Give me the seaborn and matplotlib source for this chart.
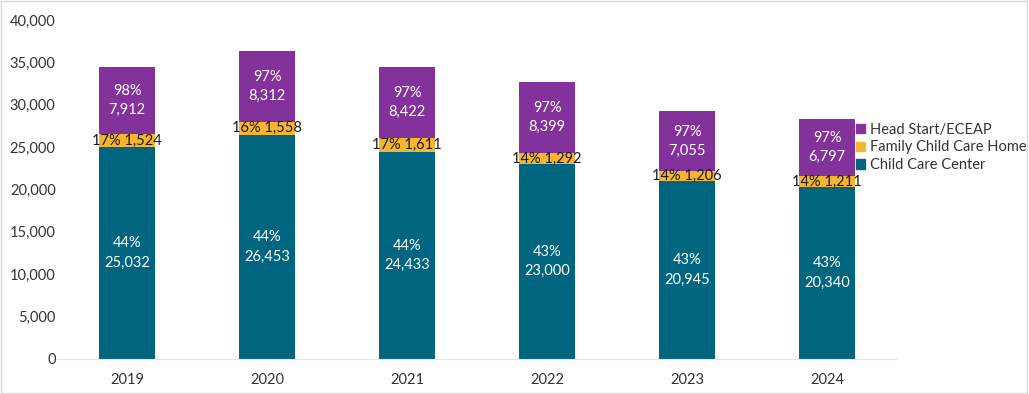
import numpy as np
import pandas as pd
import seaborn as sns
import matplotlib.pyplot as plt
from matplotlib.patches import Patch, Rectangle

# Data
years = ["2019", "2020", "2021", "2022", "2023", "2024"]
center = [25032, 26453, 24433, 23000, 20945, 20340]
family = [1524, 1558, 1611, 1292, 1206, 1211]
head_start = [7912, 8312, 8422, 8399, 7055, 6797]
center_pct = [44, 44, 44, 43, 43, 43]
family_pct = [17, 16, 17, 14, 14, 14]
head_start_pct = [98, 97, 97, 97, 97, 97]

C_CENTER = "#00657E"
C_FAMILY = "#F6B531"
C_HEAD = "#84329B"

df = pd.DataFrame({"year": years, "center": center, "family": family, "head": head_start})
df["lvl2"] = df["center"] + df["family"]
df["lvl3"] = df["lvl2"] + df["head"]

plt.rcParams["font.family"] = ["Lato", "DejaVu Sans"]
fig = plt.figure(figsize=(10.29, 3.94), dpi=100)
ax = fig.add_axes([57 / 1029, 1 - 359 / 394, 840 / 1029, 339 / 394])

# layered bars -> stacked look
sns.barplot(data=df, x="year", y="lvl3", color=C_HEAD, width=0.4, saturation=1, ax=ax)
sns.barplot(data=df, x="year", y="lvl2", color=C_FAMILY, width=0.4, saturation=1, ax=ax)
sns.barplot(data=df, x="year", y="center", color=C_CENTER, width=0.4, saturation=1, ax=ax)

FS = 10.5
for i in range(len(years)):
    ax.text(i, center[i] / 2, f"{center_pct[i]}%\n{center[i]:,}", ha="center", va="center",
            color="white", fontsize=FS, linespacing=1.5)
    ax.text(i, center[i] + family[i] / 2, f"{family_pct[i]}% {family[i]:,}", ha="center",
            va="center", color="#1a1a1a", fontsize=FS)
    ax.text(i, df["lvl2"][i] + head_start[i] / 2, f"{head_start_pct[i]}%\n{head_start[i]:,}",
            ha="center", va="center", color="white", fontsize=FS, linespacing=1.5)

ax.set_ylim(0, 40000)
ax.set_xlim(-0.5, 5.5)
ax.set_yticks(range(0, 40001, 5000))
ax.yaxis.set_major_formatter(plt.FuncFormatter(lambda v, p: f"{int(v):,}"))
ax.set_xlabel("")
ax.set_ylabel("")
ax.tick_params(length=0, labelsize=FS, labelcolor="#333333")
ax.tick_params(axis="y", pad=1)
ax.tick_params(axis="x", pad=10)
for s in ["top", "right", "left"]:
    ax.spines[s].set_visible(False)
ax.spines["bottom"].set_color("#E4E4E4")

handles = [Patch(color=C_HEAD, label="Head Start/ECEAP"),
           Patch(color=C_FAMILY, label="Family Child Care Home"),
           Patch(color=C_CENTER, label="Child Care Center")]
fig.legend(handles=handles, loc="upper left", bbox_to_anchor=(850 / 1029, 1 - 117 / 394),
           frameon=False, fontsize=FS, handlelength=0.6, handleheight=0.6,
           handletextpad=0.4, labelspacing=0.25, labelcolor="#333333", borderaxespad=0)

fig.patches.append(Rectangle((0.001, 0.002), 0.997, 0.995, transform=fig.transFigure,
                             fill=False, edgecolor="#D9D9D9", linewidth=1))

fig.savefig("out.png", dpi=100)
